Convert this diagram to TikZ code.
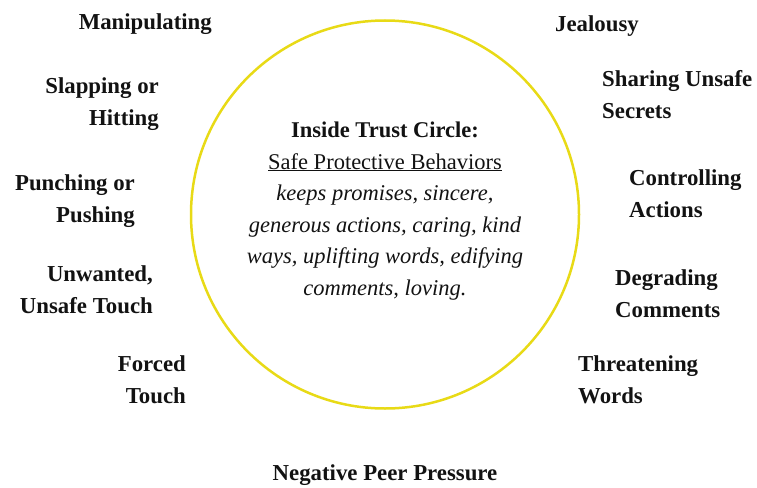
\documentclass[tikz,border=0pt]{standalone}
\usepackage{fontspec}
\setmainfont{Liberation Serif}
\definecolor{trustyellow}{RGB}{232,218,22}
\def\r{194}

\begin{document}
\begin{tikzpicture}[x=1pt,y=-1pt,
    word/.style={font=\fontsize{22.8}{31.5}\selectfont\bfseries,inner sep=0pt,text=black!93},
    left word/.style={word,anchor=base east,align=right},
    right word/.style={word,anchor=base west,align=left}]
  \useasboundingbox (0,0) rectangle (757,487);

  \node[circle,draw=trustyellow,line width=2.5pt,minimum size=2*\r pt,inner sep=0pt] (trust) at (385,214.5) {};

  \node[word,anchor=base,align=center,font=\fontsize{22.5}{31.5}\selectfont] (inside) at (385,295)
    {\textbf{Inside Trust Circle:}\\
     \underline{Safe Protective Behaviors}\\
     \textit{keeps promises, sincere,}\\
     \textit{generous actions, caring, kind}\\
     \textit{ways, uplifting words, edifying}\\
     \textit{comments, loving.}};

  % outside the circle, left side (y = baseline of last line)
  \foreach \x/\y/\t [count=\i] in {212/30/Manipulating,
                                   159/125/{Slapping or\\Hitting},
                                   135/222/{Punching or\\Pushing},
                                   153/313/{Unwanted,\\Unsafe Touch},
                                   186/403/{Forced\\Touch}} {
    \node[left word] (l\i) at (\x,\y) {\t};
  }

  % outside the circle, right side
  \foreach \x/\y/\t [count=\i] in {555/32/Jealousy,
                                   602/118/{Sharing Unsafe\\Secrets},
                                   629/217/{Controlling\\Actions},
                                   615/317/{Degrading\\Comments},
                                   578/403/{Threatening\\Words}} {
    \node[right word] (r\i) at (\x,\y) {\t};
  }

  \node[word,anchor=base] (peer) at (385,480) {Negative Peer Pressure};
\end{tikzpicture}
\end{document}
